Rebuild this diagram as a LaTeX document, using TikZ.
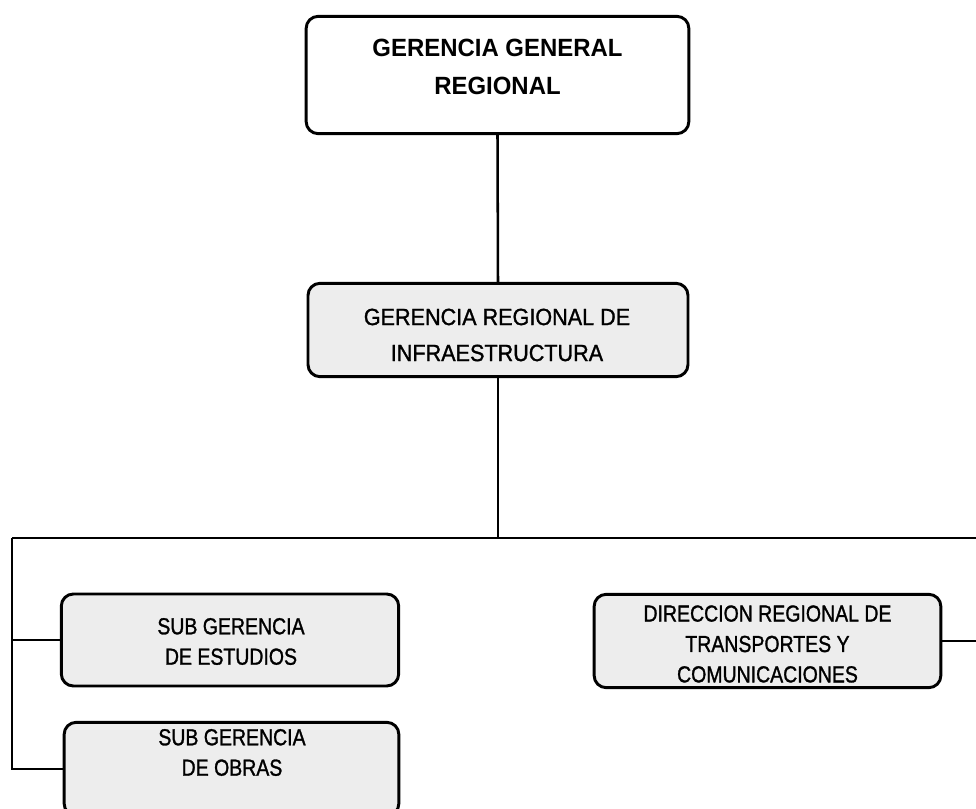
\documentclass[tikz,border=0pt]{standalone}
\usepackage{fontspec}
\setmainfont{Liberation Sans}
\newfontfamily\fnarrow[FakeStretch=0.84,FakeBold=1.2]{Liberation Sans}
\newfontfamily\fmid[FakeStretch=0.92,FakeBold=1.2]{Liberation Sans}
\newfontfamily\ftop[FakeStretch=0.96]{Liberation Sans}
\begin{document}
\begin{tikzpicture}[x=0.75pt,y=-0.75pt,
  box/.style={draw=black,line width=2.2pt,rounded corners=9pt,inner sep=0pt},
  shaded/.style={box,fill=black!7},
  wire/.style={draw=black,line width=1.9pt},
  bigtxt/.style={align=center,inner sep=0pt,font=\ftop\fontsize{18.7pt}{28.5pt}\selectfont\bfseries},
  midtxt/.style={align=center,inner sep=0pt,font=\fmid\fontsize{17.6pt}{27pt}\selectfont},
  smalltxt/.style={align=center,inner sep=0pt,font=\fnarrow\fontsize{17.4pt}{22.8pt}\selectfont}]
\clip (0,0) rectangle (976,809);
% boxes
\node[box,minimum width=287pt,minimum height=88pt] (top) at (497.5,75) {};
\node[shaded,minimum width=285pt,minimum height=70pt] (infra) at (498,330) {};
\node[shaded,minimum width=253pt,minimum height=69pt] (est) at (230,640) {};
\node[shaded,minimum width=251pt,minimum height=70pt] (obras) at (231.5,769) {};
\node[shaded,minimum width=260pt,minimum height=70pt] (dir) at (767.5,641) {};
% texts
\node[bigtxt] (toptxt) at (497.5,66.5) {GERENCIA GENERAL\\REGIONAL};
\node[midtxt] (infratxt) at (497,335) {GERENCIA REGIONAL DE\\INFRAESTRUCTURA};
\node[smalltxt] (esttxt) at (231,641.5) {SUB GERENCIA\\DE ESTUDIOS};
\node[smalltxt] (obrastxt) at (232,752.5) {SUB GERENCIA\\DE OBRAS};
\node[smalltxt] (dirtxt) at (767.5,644) {DIRECCION REGIONAL DE\\TRANSPORTES Y\\COMUNICACIONES};
% connectors
\coordinate (busL) at (12,538);
\coordinate (busR) at (980,538);
\draw[wire] (top.south) -- (infra.north);
\draw[wire] (infra.south) -- (infra.south |- busL);
\draw[wire] (busL) -- (busR);
\draw[wire] (busL) -- (busL |- obras.west) -- (obras.west);
\draw[wire] (busL |- est.west) -- (est.west);
\draw[wire] (dir.east) -- (busR |- dir.east) -- (busR);
\end{tikzpicture}
\end{document}
